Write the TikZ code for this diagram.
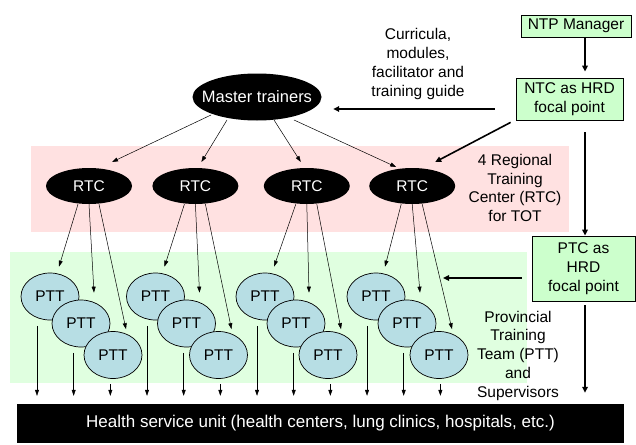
\documentclass[tikz,border=0pt]{standalone}
\usepackage{fontspec}
\setmainfont{Liberation Sans}
\usepackage{tikz}
\usetikzlibrary{positioning,shapes.geometric,arrows.meta}
\definecolor{bandr}{RGB}{255,225,225}
\definecolor{bandg}{RGB}{224,255,224}
\definecolor{boxgreen}{RGB}{204,255,204}
\definecolor{pttblue}{RGB}{183,222,228}

\begin{document}
\begin{tikzpicture}
      [
        x=1pt, y=-1pt,
        every node/.style={font=\fontsize{15.5}{18.75}\selectfont, align=center},
        boxg/.style={rectangle, draw=black, fill=boxgreen, line width=0.8pt, inner sep=0pt},
        ovalb/.style={ellipse, fill=black, text=white, inner sep=0pt, minimum width=86pt, minimum height=36pt},
        ovalc/.style={ellipse, draw=black, fill=pttblue, line width=0.7pt, inner sep=0pt, minimum width=58pt, minimum height=47pt},
        arrs/.style={-{Triangle[length=6pt,width=4pt]}, line width=0.5pt},
        arrl/.style={-{Triangle[length=6pt,width=5.5pt]}, line width=1.6pt}
      ]
      \useasboundingbox (0,0) rectangle (636,444);
      \fill[bandr] (31,146) rectangle (569,232);
      \fill[bandg] (10,252) rectangle (527,383);
      \node[boxg, minimum width=110pt, minimum height=22pt] (ntp) at (576,26) {NTP Manager};
      \node[boxg, minimum width=107pt, minimum height=42pt] (ntc) at (569.5,99) {NTC as HRD\\focal point};
      \node[boxg, minimum width=103pt, minimum height=65pt] (ptc) at (583.5,268.5) {PTC as\\HRD\\focal point};
      \node[ovalb, inner xsep=-10pt, minimum width=129pt, minimum height=47pt, font=\fontsize{16.5}{19}\selectfont] (mt) at (257,97) {Master trainers};
      \node (cur) at (418,64) {Curricula,\\modules,\\facilitator and\\training guide};
      \node[ovalb] (rtc1) at (89,186) {RTC};
      \node[ovalb] (rtc2) [right=20pt of rtc1] {RTC};
      \node[ovalb] (rtc3) [right=25pt of rtc2] {RTC};
      \node[ovalb] (rtc4) [right=19pt of rtc3] {RTC};
      \node (rtclab) at (515,188) {4 Regional\\Training\\Center (RTC)\\for TOT};
      \node (pttlab) at (518,355.5) {Provincial\\Training\\Team (PTT)\\and\\Supervisors};
      \node[rectangle, fill=black, text=white, minimum width=607pt, minimum height=39pt, font=\fontsize{17}{19}\selectfont] (hsu) at (320.5,423.5) {Health service unit (health centers, lung clinics, hospitals, etc.)};
      \coordinate (spine) at (585,0);
      \coordinate (c1) at ([yshift=-10pt]ntc.west);
      \coordinate (ptcin) at (443,278);
      % national level
      \draw[arrl, shorten >=6pt] (ntp.south -| spine) -- (ntc.north -| spine);
      \draw[arrl, shorten <=21pt, shorten >=11.5pt] (c1) -- (c1 -| mt.east);
      \draw[arrl] ([shift={(-5,2)}]ntc.south west) -- ([shift={(23,-24)}]rtc4.center);
      \draw[arrl, shorten <=12pt] (ntc.south -| spine) -- (ptc.north -| spine);
      \draw[arrl, shorten <=10pt] ([yshift=-9.5pt]ptc.west) -- (ptcin);
      \draw[arrl, shorten <=4pt, shorten >=11pt] (ptc.south -| spine) -- (hsu.north -| spine);
      % master trainers to RTC
      \draw[arrs] ([shift={(-46,18)}]mt.center) -- ([shift={(23,-24)}]rtc1.center);
      \draw[arrs] ([shift={(-30,23)}]mt.center) -- ([shift={(6,-24)}]rtc2.center);
      \draw[arrs] ([shift={(17,23)}]mt.center) -- ([shift={(-6,-24)}]rtc3.center);
      \draw[arrs] ([shift={(37,23)}]mt.center) -- ([shift={(-16,-19)}]rtc4.center);
      % RTC to PTT
      \foreach \g/\px in {1/50,2/155.5,3/265,4/376} {
        \node[ovalc] (p\g1) at (\px,296.5) {PTT};
        \node[ovalc] (p\g2) at ([shift={(31,27)}]p\g1) {PTT};
        \node[ovalc] (p\g3) at ([shift={(32,31.5)}]p\g2) {PTT};
        \draw[arrs] ([xshift=-11pt]rtc\g.south) -- ([shift={(9,-6)}]p\g1.north);
        \draw[arrs] (rtc\g.south) -- ([shift={(13,-7)}]p\g2.north);
        \draw[arrs] ([xshift=10pt]rtc\g.south) -- ([shift={(13,-2)}]p\g3.north);
      }
      % PTT to health service unit
      \foreach \p [count=\i from 0] in {p11,p12,p13,p21,p22,p23,p31,p32,p33,p41,p42,p43} {
        \pgfmathsetmacro\ax{37+36.67*\i}
        \coordinate (bx) at (\ax,0);
        \draw[arrs, shorten >=8pt] (bx |- \p.south) ++(0,5.5) -- (bx |- hsu.north);
      }
    \end{tikzpicture}
\end{document}
